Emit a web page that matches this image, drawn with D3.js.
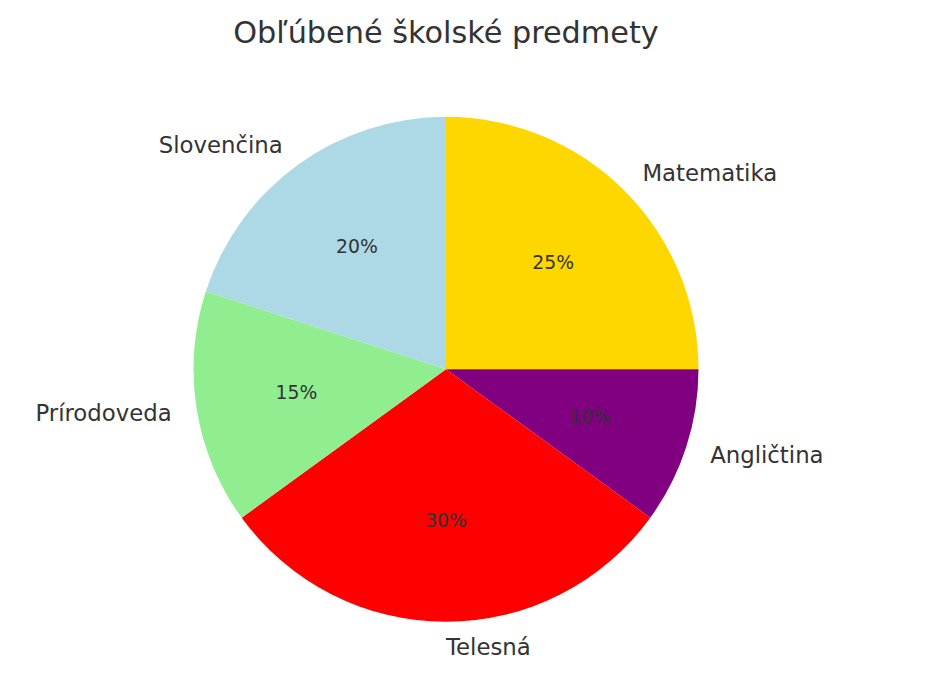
<!DOCTYPE html>
<html>
<head>
<meta charset="utf-8">
<script src="https://cdn.jsdelivr.net/npm/d3@7"></script>
<style>
  body { margin: 0; background: #fff; }
  text { font-family: 'DejaVu Sans', sans-serif; fill: #333; }
</style>
</head>
<body>
<div id="viz"></div>
<script>
// slices listed clockwise from 12 o'clock
const subjects = ['Matematika', 'Angličtina', 'Telesná', 'Prírodoveda', 'Slovenčina'];
const shares = [25, 10, 30, 15, 20];
const colors = ['#FFD700', '#800080', '#FF0000', '#90EE90', '#ADD8E6'];
const title = 'Obľúbené školské predmety';

const width = 952;
const height = 692;
const cx = 446;
const cy = 369.3;
const radius = 252.5;

const svg = d3.select('#viz').append('svg')
  .attr('width', width)
  .attr('height', height);

svg.append('text')
  .attr('x', cx)
  .attr('y', 43)
  .attr('text-anchor', 'middle')
  .style('font-size', '30.3px')
  .text(title);

const data = subjects.map((name, i) => ({name, value: shares[i], color: colors[i]}));

const pie = d3.pie().value(d => d.value).sort(null);
const arc = d3.arc().innerRadius(0).outerRadius(radius);
const arcs = pie(data);

const g = svg.append('g').attr('transform', `translate(${cx},${cy})`);

g.selectAll('path')
  .data(arcs)
  .join('path')
  .attr('d', arc)
  .style('fill', d => d.data.color);

const total = d3.sum(shares);
const mid = d => (d.startAngle + d.endAngle) / 2;

// percentages at 0.6 r
g.selectAll('text.pct')
  .data(arcs)
  .join('text')
  .attr('class', 'pct')
  .attr('x', d => 0.6 * radius * Math.sin(mid(d)))
  .attr('y', d => -0.6 * radius * Math.cos(mid(d)))
  .attr('text-anchor', 'middle')
  .attr('dominant-baseline', 'central')
  .style('font-size', '18.8px')
  .text(d => Math.round(d.data.value / total * 100) + '%');

// names at 1.1 r
g.selectAll('text.lbl')
  .data(arcs)
  .join('text')
  .attr('class', 'lbl')
  .attr('x', d => 1.1 * radius * Math.sin(mid(d)))
  .attr('y', d => -1.1 * radius * Math.cos(mid(d)))
  .attr('text-anchor', d => Math.sin(mid(d)) > 0 ? 'start' : 'end')
  .attr('dominant-baseline', 'central')
  .style('font-size', '22.8px')
  .text(d => d.data.name);
</script>
</body>
</html>
